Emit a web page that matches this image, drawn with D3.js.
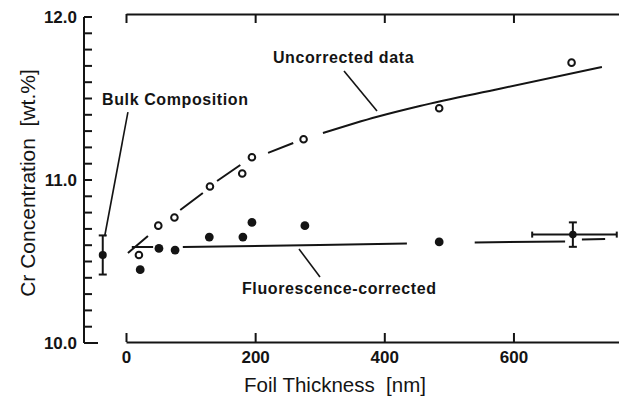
<!DOCTYPE html>
<html><head><meta charset="utf-8">
<script src="https://cdn.jsdelivr.net/npm/d3@7"></script>
<style>html,body{margin:0;padding:0;background:#fff;}svg{display:block;} text{white-space:pre;}</style>
</head><body>
<script>
// ---- data ----
const uncorrX = [20, 50, 75, 130, 180, 195, 275, 485, 690];
const uncorrY = [10.54, 10.72, 10.77, 10.96, 11.04, 11.14, 11.25, 11.44, 11.72];
const corrX = [22, 51, 76, 129, 181, 195, 277, 485];
const corrY = [10.45, 10.58, 10.57, 10.65, 10.65, 10.74, 10.72, 10.62];
// measured point with error bars
const errPointX = [692];
const errPointY = [10.665];
const errXRange = [629, 760];
const errYRange = [10.59, 10.74];
// bulk composition (drawn left of the origin)
const bulkX = [-36];
const bulkY = [10.54];
const bulkYRange = [10.42, 10.66];
// fitted curves (null = break in the drawn line)
const fitUncorrX = [3, 34, null, 84, 119, null, 141, 177, null, 220, 259, null, 305, 389, 455, 579, 737];
const fitUncorrY = [10.552, 10.656, null, 10.816, 10.920, null, 10.994, 11.092, null, 11.166, 11.227, null, 11.288, 11.388, 11.454, 11.560, 11.693];
const fitCorrX = [9, 42, null, 88, 300, 435, null, 540, 680, null, 706, 742];
const fitCorrY = [10.589, 10.589, null, 10.589, 10.601, 10.610, null, 10.617, 10.623, null, 10.635, 10.638];
// ticks
const xTickValues = [0, 200, 400, 600];
const yMajorTicks = [10.0, 11.0, 12.0];
// texts
const xTitle = "Foil Thickness  [nm]";
const yTitle = "Cr Concentration  [wt.%]";
const labelBulk = "Bulk Composition";
const labelUncorr = "Uncorrected data";
const labelCorr = "Fluorescence-corrected";

// ---- layout ----
const W = 619, H = 403;
const FONT = "'Liberation Sans', Arial, Helvetica, sans-serif";
const INK = "#141414";
const svg = d3.select("body").append("svg").attr("width", W).attr("height", H);
svg.append("rect").attr("width", W).attr("height", H).attr("fill", "#fff");

const x = d3.scaleLinear().domain([0, 765]).range([126, 620]);
const y = d3.scaleLinear().domain([10, 12]).range([343, 17]);

// left axis: domain line + minor/major ticks drawn from the scale
const AX = 84;
const yMinor = y.ticks(20);
const gTicks = svg.append("g").attr("transform", `translate(${AX},0)`);
gTicks.append("line").attr("x1", 0).attr("x2", 0).attr("y1", y(12)).attr("y2", y(10))
  .attr("stroke", INK).attr("stroke-width", 2);
gTicks.selectAll("line.mtick").data(yMinor).enter().append("line").attr("class", "mtick")
  .attr("x1", 0).attr("x2", d => Math.abs(d - 10) < 1e-6 ? 14 : 8)
  .attr("y1", d => y(d)).attr("y2", d => y(d))
  .attr("stroke", INK).attr("stroke-width", 2);
gTicks.selectAll("text.ylab").data(yMajorTicks).enter().append("text").attr("class", "ylab")
  .attr("x", -7).attr("y", d => y(d)).attr("dy", "0.36em").attr("text-anchor", "end")
  .attr("font-size", 17).attr("font-weight", "bold").attr("font-family", FONT).attr("fill", INK)
  .text(d3.format(".1f"));

// bottom axis
const gB = svg.append("g").attr("transform", "translate(0,342)")
  .call(d3.axisBottom(x).tickValues(xTickValues).tickSize(-9).tickSizeOuter(0).tickPadding(9));
gB.selectAll("text").attr("font-size", 17).attr("font-weight", "bold").attr("font-family", FONT).attr("fill", INK);
gB.selectAll("line,path").attr("stroke", INK).attr("stroke-width", 2);

// top axis
const gT = svg.append("g").attr("transform", "translate(0,14)")
  .call(d3.axisTop(x).tickValues(xTickValues).tickSize(-9).tickSizeOuter(0).tickFormat(""));
gT.selectAll("line,path").attr("stroke", INK).attr("stroke-width", 2);

// titles
svg.append("text").attr("x", 335).attr("y", 392).attr("text-anchor", "middle")
  .attr("font-family", FONT).attr("font-size", 20.5).attr("fill", INK).text(xTitle);
svg.append("text").attr("transform", "translate(35,183) rotate(-90)").attr("text-anchor", "middle")
  .attr("font-family", FONT).attr("font-size", 21).attr("fill", INK).text(yTitle);

// fit lines
const lineGen = d3.line().defined(d => d[1] != null)
  .x(d => x(d[0])).y(d => y(d[1])).curve(d3.curveMonotoneX);
const zip = (a, b) => a.map((v, i) => [v, b[i]]);
svg.append("path").attr("d", lineGen(zip(fitUncorrX, fitUncorrY)))
  .attr("fill", "none").attr("stroke", INK).attr("stroke-width", 2);
svg.append("path").attr("d", lineGen(zip(fitCorrX, fitCorrY)))
  .attr("fill", "none").attr("stroke", INK).attr("stroke-width", 2);

// error bars
function errBar(x1, y1, x2, y2, cap, vertical) {
  svg.append("line").attr("x1", x1).attr("y1", y1).attr("x2", x2).attr("y2", y2)
    .attr("stroke", INK).attr("stroke-width", 2);
  [[x1, y1], [x2, y2]].forEach(([a, b]) => {
    svg.append("line")
      .attr("x1", vertical ? a - cap : a).attr("x2", vertical ? a + cap : a)
      .attr("y1", vertical ? b : b - cap).attr("y2", vertical ? b : b + cap)
      .attr("stroke", INK).attr("stroke-width", 2);
  });
}
errBar(x(errXRange[0]), y(errPointY[0]), x(errXRange[1]), y(errPointY[0]), 3, false);
errBar(x(errPointX[0]), y(errYRange[0]), x(errPointX[0]), y(errYRange[1]), 4, true);
errBar(x(bulkX[0]), y(bulkYRange[0]), x(bulkX[0]), y(bulkYRange[1]), 4, true);

// points
svg.selectAll(".unc").data(zip(uncorrX, uncorrY)).join("circle")
  .attr("cx", d => x(d[0])).attr("cy", d => y(d[1])).attr("r", 3.3)
  .attr("fill", "#fff").attr("stroke", INK).attr("stroke-width", 2);
svg.selectAll(".cor").data(zip(corrX, corrY)).join("circle")
  .attr("cx", d => x(d[0])).attr("cy", d => y(d[1])).attr("r", 4.4).attr("fill", INK);
svg.selectAll(".errpt").data(zip(errPointX, errPointY)).join("circle")
  .attr("cx", d => x(d[0])).attr("cy", d => y(d[1])).attr("r", 3.8).attr("fill", INK);
svg.selectAll(".bulk").data(zip(bulkX, bulkY)).join("circle")
  .attr("cx", d => x(d[0])).attr("cy", d => y(d[1])).attr("r", 4).attr("fill", INK);

// annotations (positions in data units)
function annotate(txt, tx, ty, p1, p2) {
  svg.append("text").attr("x", x(tx)).attr("y", y(ty))
    .attr("font-family", FONT).attr("font-size", 16).attr("font-weight", "bold")
    .attr("letter-spacing", 0.6).attr("fill", INK).text(txt);
  svg.append("line").attr("x1", x(p1[0])).attr("y1", y(p1[1])).attr("x2", x(p2[0])).attr("y2", y(p2[1]))
    .attr("stroke", INK).attr("stroke-width", 1.6);
}
annotate(labelBulk, -37, 11.46, [3, 11.417], [-33, 10.655]);
annotate(labelUncorr, 227.6, 11.718, [337.6, 11.669], [388.7, 11.423]);
annotate(labelCorr, 179.6, 10.298, [267.9, 10.577], [300.4, 10.405]);
</script>
</body></html>
